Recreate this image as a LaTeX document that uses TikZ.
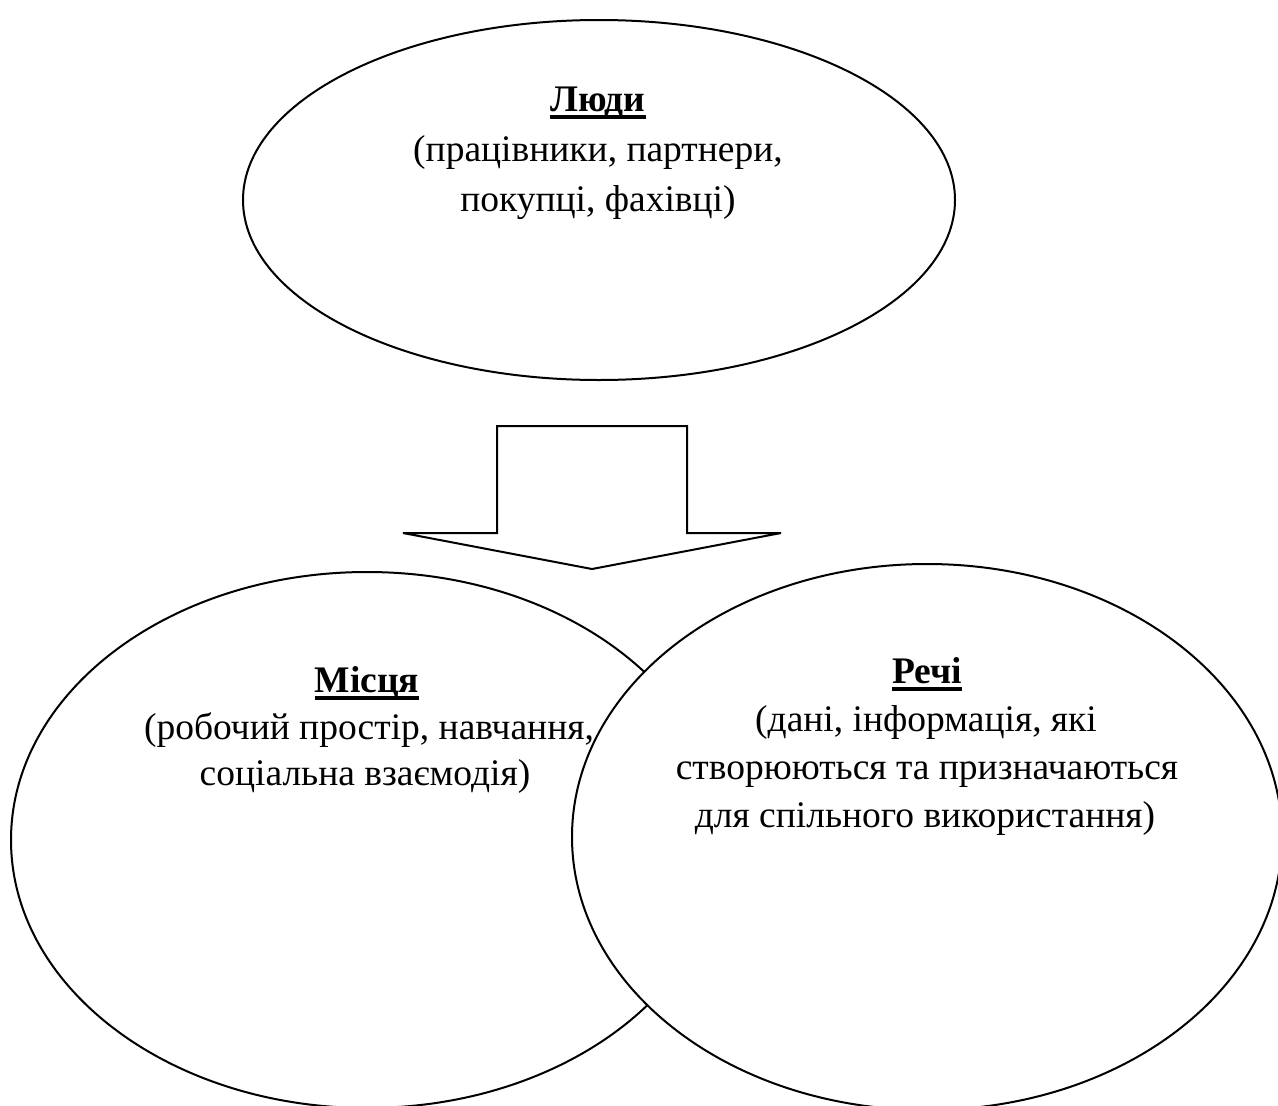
\documentclass[tikz,border=0pt]{standalone}
\usepackage{fontspec}
\setmainfont{Liberation Serif}
\usetikzlibrary{shapes.geometric}
\newcommand\myul[1]{\setbox0\hbox{#1}\rlap{\rule[-7.5pt]{\wd0}{3.5pt}}\box0}
\begin{document}
\begin{tikzpicture}[x=1pt,y=-1pt,line width=2pt,
  oval/.style={draw,ellipse,fill=white,inner sep=0pt,outer sep=0pt},
  txt/.style={anchor=base,inner sep=0pt,font=\fontsize{37.5}{46}\selectfont}]
\useasboundingbox (0,0) rectangle (1278,1106);
\clip (0,0) rectangle (1278,1106);
% top ellipse
\node[oval,minimum width=712pt,minimum height=360pt] (people) at (599,200) {};
% block arrow
\coordinate (tip) at (592,569);
\draw[fill=white] (497,426) -- (687,426) -- (687,533) -- (781,533) -- (tip) -- (403,533) -- (497,533) -- cycle;
% bottom ellipses
\node[oval,minimum width=712pt,minimum height=536pt] (places) at (367,840) {};
\node[oval,minimum width=710pt,minimum height=546pt] (things) at (927,837) {};
% texts
\node[txt] (p1) at (598,111) {\myul{\textbf{Люди}}};
\node[txt] (p2) at (598,161) {(працівники, партнери,};
\node[txt] (p3) at (598,211) {покупці, фахівці)};
\node[txt] (m1) at (367,692) {\myul{\textbf{Місця}}};
\node[txt] (m2) at (369,739) {(робочий простір, навчання,};
\node[txt] (m3) at (365,785) {соціальна взаємодія)};
\node[txt] (r1) at (927,683) {\myul{\textbf{Речі}}};
\node[txt] (r2) at (926,731) {(дані, інформація, які};
\node[txt] (r3) at (927,779) {створюються та призначаються};
\node[txt] (r4) at (925,827) {для спільного використання)};
\end{tikzpicture}
\end{document}
